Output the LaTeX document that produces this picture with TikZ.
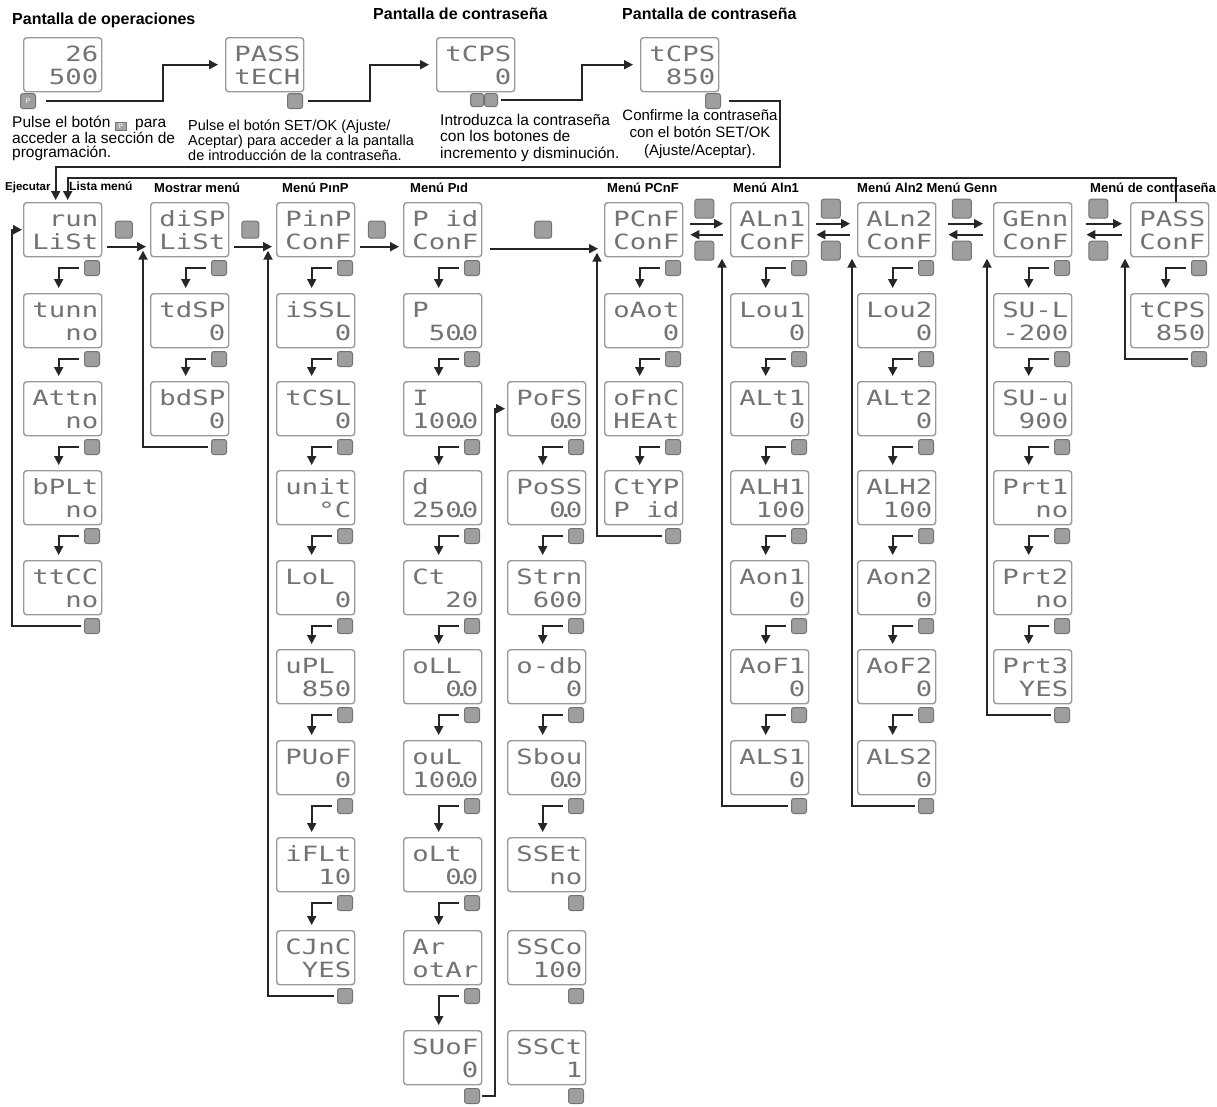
\documentclass[tikz,border=0pt]{standalone}
\usepackage{fontspec}
\setmainfont{Liberation Sans}
\newfontfamily\segfont[FakeStretch=1.3]{DejaVu Sans Mono}
\usetikzlibrary{arrows.meta,calc}
\tikzset{
  disp/.style={draw=black!40, line width=1.4pt, rounded corners=3pt, minimum width=78pt, minimum height=54pt, inner sep=0pt, anchor=north west, fill=white},
  seg/.style={anchor=base east, inner sep=0pt, font=\segfont\fontsize{21}{21}\selectfont, text=black!55},
  icon/.style={draw=black!55, fill=black!38, rounded corners=2.5pt, minimum size=15pt, inner sep=0pt, line width=1pt},
  bigicon/.style={icon, minimum size=19pt},
  conn/.style={draw=black!85, line width=1.8pt},
  arr/.style={conn, -{Triangle[length=9pt,width=9pt]}},
  darr/.style={arr, shorten <=5pt, shorten >=5pt},
  ttl/.style={font=\bfseries\fontsize{13}{15}\selectfont, anchor=west, inner sep=0pt},
  big/.style={font=\bfseries\fontsize{16}{18}\selectfont, anchor=west, inner sep=0pt},
  note/.style={align=left, anchor=north west, inner sep=0pt}
}
\newcommand\gap{\phantom{0}}
\newcommand\dotp{\makebox[0pt][c]{.}}
\newcommand\icoP{{\setlength\fboxsep{1pt}\raisebox{-1pt}{\fcolorbox{black!55}{black!35}{\makebox[9pt]{\color{white}\fontsize{7}{7}\selectfont P}}}}}
\newcommand\mkdisp[5]{%
  \node[disp] (#1) at (#2,#3) {};
  \node[seg] (#1-t) at ([xshift=-4pt,yshift=-24pt]#1.north east) {#4};
  \node[seg] (#1-b) at ([xshift=-4pt,yshift=-47pt]#1.north east) {#5};
}
\newcommand\mkcol[3]{%
  \foreach \r/\topt/\bott in {#3}{%
    \pgfmathsetmacro\yy{{202,293,381,470,560,649,740,837,930,1030}[\r]}%
    \mkdisp{#1\r}{#2}{\yy}{\topt}{\bott}
    \node[icon] (i#1\r) at (#2+69,\yy+66) {};
  }}
\newcommand\mkarr[3]{%
  \foreach \r [evaluate=\r as \nx using int(\r+1)] in {#2,...,#3}{%
    \draw[darr] (i#1\r.west) -| ([xshift=-4pt]#1\nx.north);
  }}
\begin{document}
\begin{tikzpicture}[x=1pt,y=-1pt]
\useasboundingbox[fill=white] (0,0) rectangle (1217,1106);

% ---------- columns ----------
\mkcol{A}{23}{0/\gap run/LiSt,1/tunn/no,2/Attn/no,3/bPLt/no,4/ttCC/no}
\mkcol{B}{150}{0/diSP/LiSt,1/tdSP/0,2/bdSP/0}
\mkcol{C}{276}{0/PinP/ConF,1/iSSL/0,2/tCSL/0,3/unit/°C,4/LoL\gap/0,5/uPL\gap/850,6/PUoF/0,7/iFLt/10,8/CJnC/YES}
\mkcol{D}{403}{0/P\gap id/ConF,1/P\gap\gap\gap/50\dotp 0,2/I\gap\gap\gap/100\dotp 0,3/d\gap\gap\gap/250\dotp 0,4/Ct\gap\gap/20,5/oLL\gap/0\dotp 0,6/ouL\gap/100\dotp 0,7/oLt\gap/0\dotp 0,8/Ar\gap\gap/otAr,9/SUoF/0}
\mkcol{E}{507}{2/PoFS/0\dotp 0,3/PoSS/0\dotp 0,4/Strn/600,5/o-db/0,6/Sbou/0\dotp 0,7/SSEt/no,8/SSCo/100,9/SSCt/1}
\mkcol{F}{604}{0/PCnF/ConF,1/oAot/0,2/oFnC/HEAt,3/CtYP/P\gap id}
\mkcol{G}{730}{0/ALn1/ConF,1/Lou1/0,2/ALt1/0,3/ALH1/100,4/Aon1/0,5/AoF1/0,6/ALS1/0}
\mkcol{H}{857}{0/ALn2/ConF,1/Lou2/0,2/ALt2/0,3/ALH2/100,4/Aon2/0,5/AoF2/0,6/ALS2/0}
\mkcol{I}{993}{0/GEnn/ConF,1/SU-L/-200,2/SU-u/900,3/Prt1/no,4/Prt2/no,5/Prt3/YES}
\mkcol{J}{1130}{0/PASS/ConF,1/tCPS/850}

\mkarr{A}{0}{3}
\mkarr{B}{0}{1}
\mkarr{C}{0}{7}
\mkarr{D}{0}{8}
\mkarr{E}{2}{6}
\mkarr{F}{0}{2}
\mkarr{G}{0}{5}
\mkarr{H}{0}{5}
\mkarr{I}{0}{4}
\mkarr{J}{0}{0}

% ---------- horizontal connectors ----------
\draw[arr, shorten <=5pt, shorten >=4pt] ([yshift=-17pt]A0.east) -- ([yshift=-17pt]B0.west);
\node[icon, minimum size=17pt] (hAB) at ($(A0.east)!0.45!(B0.west)$) {};
\draw[arr, shorten <=5pt, shorten >=4pt] ([yshift=-17pt]B0.east) -- ([yshift=-17pt]C0.west);
\node[icon, minimum size=17pt] (hBC) at ($(B0.east)!0.45!(C0.west)$) {};
\draw[arr, shorten <=5pt, shorten >=4pt] ([yshift=-17pt]C0.east) -- ([yshift=-17pt]D0.west);
\node[icon, minimum size=17pt] (hCD) at ($(C0.east)!0.45!(D0.west)$) {};
\draw[arr, shorten <=8pt, shorten >=6pt] ([yshift=-19pt]D0.east) -- ([yshift=-19pt]F0.west);
\node[icon, minimum size=17pt] (hDF) at ($(D0.east)!0.5!(F0.west)$) {};

\foreach \p/\q/\sa/\sb in {F/G/7/7, G/H/7/7, H/I/12/10, I/J/14/8}{
  \draw[arr, shorten <=\sa pt, shorten >=\sb pt] ([yshift=6pt]\p0.east) -- ([yshift=6pt]\q0.west);
  \draw[arr, shorten <=\sb pt, shorten >=\sa pt] ([yshift=-5pt]\q0.west) -- ([yshift=-5pt]\p0.east);
  \node[bigicon] (u\p) at ($(\p0.east)!0.45!(\q0.west)+(0,-21)$) {};
  \node[bigicon] (d\p) at ($(\p0.east)!0.45!(\q0.west)+(0,21)$) {};
}

% ---------- loops ----------
\draw[arr, shorten <=3pt, shorten >=1pt] (iA4.west) -| ([xshift=-11pt]A0.west) -- (A0.west);
\draw[arr, shorten <=3pt] (iB2.west) -| ([xshift=-7pt,yshift=-21pt]B0.west);
\draw[arr, shorten <=3pt] (iC8.west) -| ([xshift=-8pt,yshift=-21pt]C0.west);
\draw[arr, shorten <=3pt] (iF3.west) -| ([xshift=-7pt,yshift=-23pt]F0.west);
\draw[arr, shorten <=3pt] (iG6.west) -| ([xshift=-8pt,yshift=-29pt]G0.west);
\draw[arr, shorten <=3pt] (iH6.west) -| ([xshift=-5pt,yshift=-29pt]H0.west);
\draw[arr, shorten <=3pt] (iI5.west) -| ([xshift=-6pt,yshift=-29pt]I0.west);
\draw[arr, shorten <=3pt] (iJ1.west) -| ([xshift=-5pt,yshift=-29pt]J0.west);
\draw[arr, shorten <=2pt, shorten >=2pt] (iD9.east) -| ([xshift=-12pt]E2.west) -- (E2.west);

% ---------- top row ----------
\mkdisp{T0}{23}{37}{26}{500}
\mkdisp{T1}{225}{37}{PASS}{tECH}
\mkdisp{T2}{436}{37}{tCPS}{0}
\mkdisp{T3}{640}{37}{tCPS}{850}
\node[icon, font=\fontsize{7}{7}\selectfont, text=white] (iT0) at (28,101) {P};
\node[icon] (iT1) at (295,101) {};
\node[icon, minimum size=13pt] (iT2a) at (477,100) {};
\node[icon, minimum size=13pt] (iT2b) at (491,100) {};
\node[icon] (iT3) at (713,101) {};
\coordinate (u1) at (780,167);
\draw[arr, shorten <=10pt, shorten >=7pt] (iT0.east) -| ([xshift=-62pt]T1.west) -- (T1.west);
\draw[arr, shorten <=5pt, shorten >=7pt] (iT1.east) -| ([xshift=-66pt]T2.west) -- (T2.west);
\draw[arr, shorten <=3pt, shorten >=7pt] (iT2b.east) -| ([xshift=-58pt]T3.west) -- (T3.west);
\draw[arr, shorten <=8pt, shorten >=2pt] (iT3.east) -| (u1) -| ([xshift=-7pt]A0.north);
\draw[arr, shorten >=2pt] ([xshift=6pt]J0.north) |- ([xshift=5pt,yshift=24pt]A0.north) -- ([xshift=5pt]A0.north);

% ---------- titles ----------
\node[big] (p1) at (12,20) {Pantalla de operaciones};
\node[big] (p2) at (373,14) {Pantalla de contraseña};
\node[big] (p3) at (622,14) {Pantalla de contraseña};
\node[ttl, font=\bfseries\fontsize{11.5}{13}\selectfont] (tEj) at (5,188) {Ejecutar};
\node[ttl, font=\bfseries\fontsize{12}{14}\selectfont] (tLi) at (69,186) {Lista menú};
\node[ttl] (tMo) at (154,188) {Mostrar menú};
\node[ttl] (tPi) at (282,188) {Menú PınP};
\node[ttl] (tPd) at (410,188) {Menú Pıd};
\node[ttl] (tPC) at (607,188) {Menú PCnF};
\node[ttl] (tA1) at (733,188) {Menú Aln1};
\node[ttl] (tA2) at (857,188) {Menú Aln2 Menú Genn};
\node[ttl] (tCo) at (1090,188) {Menú de contraseña};

% ---------- notes ----------
\node[note, font=\fontsize{15.5}{14}\selectfont] (n1) at (12,116) {Pulse el botón \icoP\ \ para\\acceder a la sección de\\programación.};
\node[note, font=\fontsize{14.5}{13}\selectfont] (n2) at (188,120) {Pulse el botón SET/OK (Ajuste/\\Aceptar) para acceder a la pantalla\\de introducción de la contraseña.};
\node[note, font=\fontsize{15.5}{16.5}\selectfont] (n3) at (440,114) {Introduzca la contraseña\\con los botones de\\incremento y disminución.};
\node[note, anchor=north, align=center, font=\fontsize{15}{17.5}\selectfont] (n4) at (700,109) {Confirme la contraseña\\con el botón SET/OK\\(Ajuste/Aceptar).};
\end{tikzpicture}
\end{document}
